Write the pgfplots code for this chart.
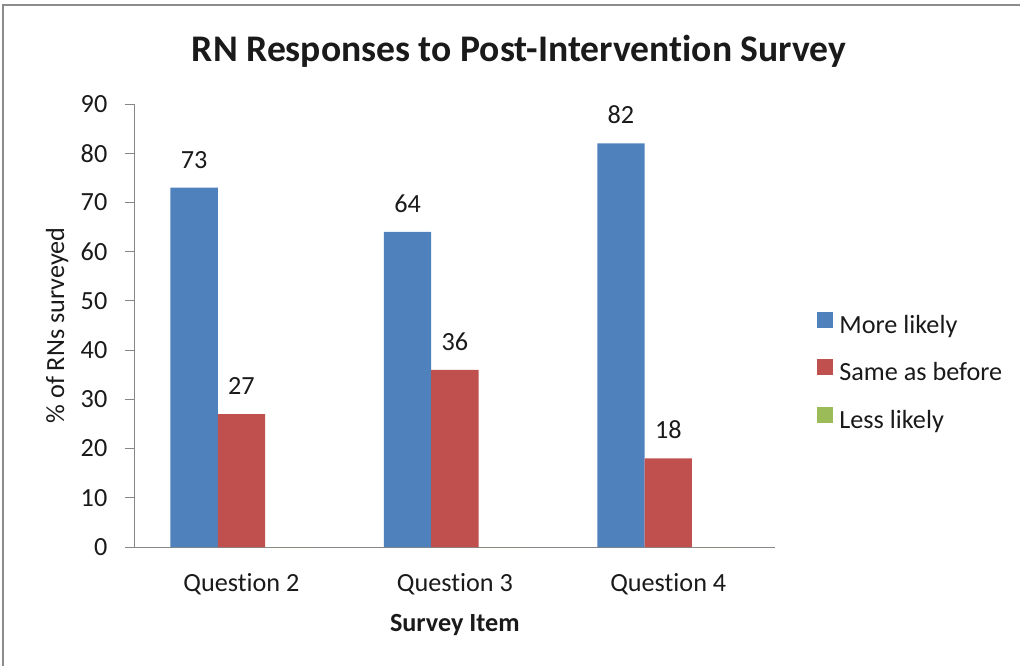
\documentclass[border=0pt]{standalone}
\usepackage{fontspec}
\setmainfont{Carlito}[Ligatures=NoCommon]
\usepackage{pgfplots}
\pgfplotsset{compat=1.18}

\definecolor{barblue}{HTML}{4F81BD}
\definecolor{barred}{HTML}{C0504D}
\definecolor{bargreen}{HTML}{9BBB59}
\definecolor{axisgray}{HTML}{868686}
\definecolor{framegray}{HTML}{8C8C8C}
\definecolor{txt}{HTML}{1A1A1A}

\newcommand{\lblfont}{\fontsize{13.1}{15}\selectfont}

\pgfplotsset{
  squarelegend/.style={
    legend image code/.code={\fill[##1, draw=none] (0pt,-0.3pt) rectangle (8pt,7.7pt);}
  }
}

\begin{document}
\begin{tikzpicture}
\begin{scope}[x=0.5pt,y=-0.5pt]
  \useasboundingbox (0,0) rectangle (1020,665);
  % chart area frame (top and left edges)
  \draw[framegray, line width=1pt] (2.5,680) -- (2.5,5) -- (1030,5);
  \node[font=\fontsize{18.8}{22}\selectfont\bfseries, text=txt] at (519,51)
    {RN Responses to Post-Intervention Survey};
\end{scope}

\begin{axis}[
  at={(67.35pt,-273.5pt)}, anchor=south west,
  scale only axis, width=320.15pt, height=221.5pt,
  ybar=0pt, bar width=23.65pt,
  xmin=-0.5, xmax=2.5, ymin=0, ymax=90,
  xtick={0,1,2},
  xticklabels={Question 2,Question 3,Question 4},
  ytick={0,10,...,90},
  axis x line*=bottom, axis y line*=left,
  axis line style={axisgray, line width=0.5pt, -},
  tick align=outside,
  major tick length=5pt,
  major x tick style={draw=none},
  major y tick style={axisgray, line width=0.5pt},
  /pgf/number format/assume math mode=true,
  tick label style={font=\lblfont, text=txt},
  yticklabel style={anchor=east, inner sep=0pt, xshift=-8.5pt},
  xticklabel style={anchor=north, inner sep=0pt, yshift=-8pt},
  ylabel={\% of RNs surveyed},
  ylabel style={at={(axis description cs:-0.121,0.5)}, anchor=center,
    font=\lblfont, text=txt},
  xlabel={Survey Item},
  xlabel style={at={(axis description cs:0.5,-0.176)}, anchor=center,
    font=\lblfont\bfseries, text=txt},
  legend style={at={(rel axis cs:1.0656,0.395)}, anchor=west,
    draw=none, fill=none, inner sep=0pt, row sep=11pt,
    font=\lblfont, text=txt,
    nodes={inner sep=0pt, text height=8pt, text depth=2pt},
    /tikz/every odd column/.append style={column sep=3pt}},
  legend cell align=left,
  every axis plot post/.append style={squarelegend},
  nodes near coords style={font=\lblfont, text=txt, inner sep=0pt,
    anchor=south, yshift=9.5pt,
    /pgf/number format/.cd, fixed, precision=0, assume math mode=true},
]
\addplot[fill=barblue, draw=none, nodes near coords] coordinates {(0,73) (1,64) (2,82)};
\addplot[fill=barred, draw=none, nodes near coords] coordinates {(0,27) (1,36) (2,18)};
\addplot[fill=bargreen, draw=none] coordinates {(0,0) (1,0) (2,0)};
\legend{More likely, Same as before, Less likely}
\end{axis}
\end{tikzpicture}
\end{document}
